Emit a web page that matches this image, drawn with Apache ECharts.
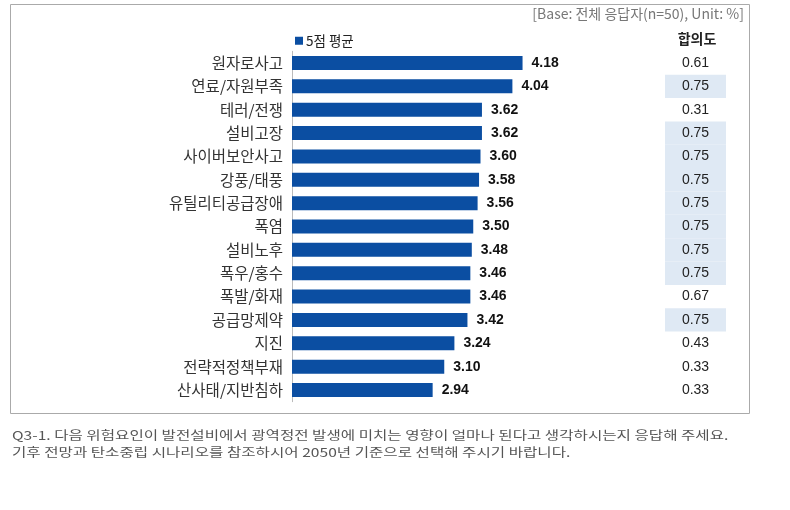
<!DOCTYPE html>
<html>
<head>
<meta charset="utf-8">
<script src="https://cdn.jsdelivr.net/npm/echarts@6/dist/echarts.min.js"></script>
<style>
html,body{margin:0;padding:0;background:#fff;}
#c{width:790px;height:510px;}
</style>
</head>
<body>
<div id="c"></div>
<script>
var categories = ['원자로사고','연료/자원부족','테러/전쟁','설비고장','사이버보안사고','강풍/태풍','유틸리티공급장애','폭염','설비노후','폭우/홍수','폭발/화재','공급망제약','지진','전략적정책부재','산사태/지반침하'];
var meanScores = [4.18,4.04,3.62,3.62,3.60,3.58,3.56,3.50,3.48,3.46,3.46,3.42,3.24,3.10,2.94];
var agreement = [0.61,0.75,0.31,0.75,0.75,0.75,0.75,0.75,0.75,0.75,0.67,0.75,0.43,0.33,0.33];
var highlighted = [0,1,0,1,1,1,1,1,1,1,0,1,0,0,0];
var seriesName = '5점 평균';
var columnTitle = '합의도';
var baseNote = '[Base: 전체 응답자(n=50), Unit: %]';
var questionLines = ['Q3-1. 다음 위험요인이 발전설비에서 광역정전 발생에 미치는 영향이 얼마나 된다고 생각하시는지 응답해 주세요.','기후 전망과 탄소중립 시나리오를 참조하시어 2050년 기준으로 선택해 주시기 바랍니다.'];

var FONT = '"Liberation Sans","Noto Sans CJK KR",sans-serif';
var KFONT = '"Noto Sans CJK KR","Liberation Sans",sans-serif';
var chart = echarts.init(document.getElementById('c'));
var top0 = 51.3, h0 = 350.4;
chart.setOption({
  animation:false,
  textStyle:{fontFamily:FONT},
  legend:{data:[seriesName],left:290,top:29,itemWidth:8,itemHeight:8,icon:'rect',itemGap:4,
    textStyle:{fontSize:13.5,color:'#222',fontFamily:KFONT,padding:[0,0,0,-2]}},
  grid:[
    {left:292,top:top0,width:290,height:h0},
    {left:665,top:top0,width:61,height:h0}
  ],
  xAxis:[
    {gridIndex:0,type:'value',min:1,max:5,show:false},
    {gridIndex:1,type:'value',min:0,max:1,show:false}
  ],
  yAxis:[
    {gridIndex:0,type:'category',data:categories,inverse:true,
      axisLine:{show:true,lineStyle:{color:'#bbb'}},axisTick:{show:false},
      axisLabel:{fontSize:15.5,color:'#333',margin:9,fontFamily:KFONT}},
    {gridIndex:1,type:'category',data:categories,inverse:true,show:false}
  ],
  series:[
    {name:seriesName,type:'bar',xAxisIndex:0,yAxisIndex:0,data:meanScores,barWidth:14,
      itemStyle:{color:'#0b4ea2'},
      label:{show:true,position:'right',distance:9,fontSize:14,fontWeight:'bold',color:'#111',
        formatter:function(p){return p.value.toFixed(2);}}},
    {name:'bg',type:'bar',xAxisIndex:1,yAxisIndex:1,data:highlighted,barCategoryGap:'0%',barGap:'-100%',
      itemStyle:{color:'#dfe9f4'},silent:true},
    {name:'agree',type:'bar',xAxisIndex:1,yAxisIndex:1,data:agreement.map(function(){return 1;}),
      barCategoryGap:'0%',barGap:'-100%',itemStyle:{color:'rgba(0,0,0,0)'},silent:true,
      label:{show:true,position:'inside',fontSize:14,color:'#222',
        formatter:function(p){return agreement[p.dataIndex].toFixed(2);}}}
  ],
  graphic:[
    {type:'rect',shape:{x:10.5,y:4.5,width:739,height:409},style:{fill:'none',stroke:'#aaa',lineWidth:1},silent:true},
    {type:'text',x:744,y:7,style:{text:baseNote,align:'right',fontSize:14,fill:'#777',fontFamily:KFONT}},
    {type:'text',x:697,y:32,style:{text:columnTitle,align:'center',fontSize:14,fontWeight:'bold',fill:'#222',fontFamily:KFONT}},
    {type:'text',x:12,y:429,scaleX:1.3,style:{text:questionLines[0],fontSize:12,fill:'#555',fontFamily:KFONT}},
    {type:'text',x:12,y:446,scaleX:1.3,style:{text:questionLines[1],fontSize:12,fill:'#555',fontFamily:KFONT}}
  ]
});
</script>
</body>
</html>
